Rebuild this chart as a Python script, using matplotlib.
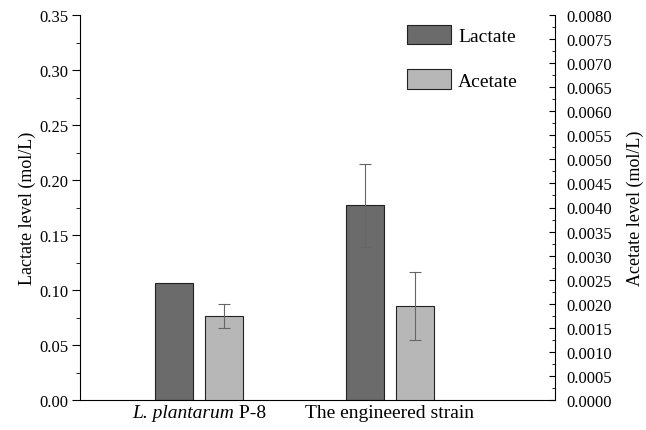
import matplotlib
matplotlib.use("Agg")
import matplotlib.pyplot as plt
import matplotlib.transforms as mtransforms
from matplotlib.ticker import MultipleLocator, FormatStrFormatter
from matplotlib.patches import Patch
import numpy as np

categories = ["L. plantarum P-8", "The engineered strain"]
italic_parts = ["L. plantarum", ""]
lactate = [0.106, 0.177]
lactate_err = [0.0, 0.038]
acetate = [0.00175, 0.00195]
acetate_err = [0.00025, 0.0007]

plt.rcParams['font.family'] = ['Liberation Serif', 'DejaVu Serif']

fig = plt.figure(figsize=(6.46, 4.31), dpi=100)
ax = fig.add_axes([80/646, 1-401/431, (555-80)/646, (401-16)/431])
ax2 = ax.twinx()

x = np.arange(len(categories))
w = 0.199
off = 0.131
c_lac = '#6b6b6b'
c_ace = '#b7b7b7'
ekw = dict(ecolor='#666666', elinewidth=0.8, capsize=4, capthick=0.8, zorder=3)
ax.bar(x - off, lactate, w, color=c_lac, edgecolor='#222222', linewidth=0.8, zorder=2)
ax2.bar(x + off, acetate, w, color=c_ace, edgecolor='#222222', linewidth=0.8, zorder=2)
le = np.array(lactate_err)
m = le > 0
ax.errorbar((x - off)[m], np.array(lactate)[m], yerr=le[m], fmt='none', **ekw)
ae = np.array(acetate_err)
m2 = ae > 0
ax2.errorbar((x + off)[m2], np.array(acetate)[m2], yerr=ae[m2], fmt='none', **ekw)

ax.set_xlim(-0.623, 1.864)
ax.set_ylim(0, 0.35)
ax2.set_ylim(0, 0.008)
ax.set_xticks(x)
PAD = 12.5
ax.set_xticklabels(['' if it else c for c, it in zip(categories, italic_parts)], fontsize=14)
ax.tick_params(axis='x', length=0, pad=PAD)
for lab in ax.get_xticklabels():
    lab.set_verticalalignment('baseline')

# mixed italic/roman labels
renderer = fig.canvas.get_renderer()
base = ax.get_xaxis_transform()
for xi, (c, it) in enumerate(zip(categories, italic_parts)):
    if not it:
        continue
    rest = c[len(it):]
    t1 = ax.text(xi, 0, it, fontsize=14, fontstyle='italic', ha='left', va='baseline',
                 transform=base, clip_on=False)
    t2 = ax.text(xi, 0, rest, fontsize=14, ha='left', va='baseline',
                 transform=base, clip_on=False)
    w1 = t1.get_window_extent(renderer).width * 72 / fig.dpi
    w2 = t2.get_window_extent(renderer).width * 72 / fig.dpi
    tot = w1 + w2
    t1.set_transform(mtransforms.offset_copy(base, fig=fig, x=-tot / 2, y=-PAD, units='points'))
    t2.set_transform(mtransforms.offset_copy(base, fig=fig, x=-tot / 2 + w1, y=-PAD, units='points'))

ax.yaxis.set_major_locator(MultipleLocator(0.05))
ax.yaxis.set_minor_locator(MultipleLocator(0.025))
ax.yaxis.set_major_formatter(FormatStrFormatter('%.2f'))
ax.tick_params(axis='y', which='major', direction='out', length=6, labelsize=12, pad=2.5)
ax.tick_params(axis='y', which='minor', direction='out', length=3)

ax2.yaxis.set_major_locator(MultipleLocator(0.0005))
ax2.yaxis.set_minor_locator(MultipleLocator(0.00025))
ax2.yaxis.set_major_formatter(FormatStrFormatter('%.4f'))
ax2.tick_params(axis='y', which='major', direction='in', length=4.5, labelsize=12, pad=8.5)
ax2.tick_params(axis='y', which='minor', direction='in', length=2.5)

for a in (ax, ax2):
    a.spines['top'].set_visible(False)
ax.spines['right'].set_visible(False)
ax2.spines['left'].set_visible(False)
ax2.spines['bottom'].set_visible(False)

ax.set_ylabel('Lactate level (mol/L)', fontsize=13, labelpad=2)
ax2.set_ylabel('Acetate level (mol/L)', fontsize=13, labelpad=10)

handles = [Patch(facecolor=c_lac, edgecolor='#222222', linewidth=0.8, label='Lactate'),
           Patch(facecolor=c_ace, edgecolor='#222222', linewidth=0.8, label='Acetate')]
ax.legend(handles=handles, loc='upper left', bbox_to_anchor=((389-80)/475, 1.02),
          frameon=False, fontsize=14, handlelength=2.3, handleheight=1.15,
          labelspacing=1.25, handletextpad=0.35)

fig.savefig('out.png', dpi=100)
